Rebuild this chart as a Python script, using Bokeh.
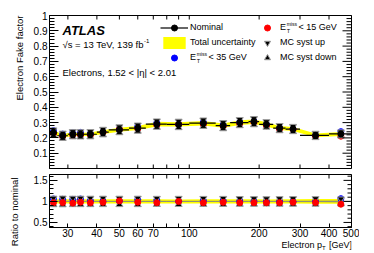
import numpy as np
from bokeh.plotting import figure
from bokeh.layouts import column, row
from bokeh.models import (Range1d, FixedTicker, CustomJSTickFormatter, LinearAxis, LogAxis,
                          Label, ColumnDataSource, Legend, LegendItem)
from bokeh.embed import file_html
from bokeh.resources import INLINE
from bokeh.core.properties import value

# ---------------- data ----------------
bin_low = [25, 27, 30, 33, 35, 40, 45, 55, 65, 80, 100, 130, 150, 180, 200, 230, 260, 300, 400]
bin_high = [27, 30, 33, 35, 40, 45, 55, 65, 80, 100, 130, 150, 180, 200, 230, 260, 300, 400, 500]
nominal = [0.234, 0.214, 0.224, 0.223, 0.224, 0.238, 0.253, 0.264, 0.290, 0.288,
           0.296, 0.280, 0.300, 0.306, 0.288, 0.264, 0.258, 0.216, 0.226]
stat_err = [0.008, 0.008, 0.008, 0.008, 0.008, 0.009, 0.009, 0.010, 0.010, 0.011,
            0.011, 0.011, 0.012, 0.012, 0.011, 0.010, 0.010, 0.009, 0.010]
total_unc = [0.012, 0.011, 0.011, 0.011, 0.011, 0.012, 0.013, 0.013, 0.015, 0.014,
             0.015, 0.014, 0.015, 0.015, 0.014, 0.013, 0.013, 0.012, 0.013]
met35 = [0.248, 0.225, 0.235, 0.236, 0.228, 0.240, 0.255, 0.275, 0.299, 0.288,
         0.302, 0.286, 0.303, 0.309, 0.288, 0.264, 0.258, 0.216, 0.241]
met15 = [0.227, 0.208, 0.215, 0.219, 0.217, 0.233, 0.256, 0.259, 0.281, 0.288,
         0.287, 0.274, 0.291, 0.297, 0.279, 0.256, 0.253, 0.210, 0.211]
syst_up = [0.252, 0.231, 0.241, 0.240, 0.241, 0.256, 0.272, 0.284, 0.311, 0.309,
           0.317, 0.300, 0.320, 0.326, 0.306, 0.281, 0.275, 0.230, 0.239]
syst_down = [0.216, 0.197, 0.207, 0.206, 0.207, 0.220, 0.234, 0.244, 0.269, 0.267,
             0.275, 0.260, 0.280, 0.286, 0.270, 0.247, 0.241, 0.202, 0.213]
mc_stat_rel = [0.015, 0.015, 0.015, 0.015, 0.015, 0.015, 0.015, 0.015, 0.015, 0.015,
               0.015, 0.015, 0.015, 0.015, 0.015, 0.015, 0.018, 0.022, 0.030]

x_ticks = [30, 40, 50, 60, 70, 80, 90, 100, 200, 300, 400, 500]
x_tick_labels = ["30", "40", "50", "60", "70", "", "", "100", "200", "300", "400", "500"]
y_ticks_top = [0.1, 0.2, 0.3, 0.4, 0.5, 0.6, 0.7, 0.8, 0.9, 1.0]
y_tick_labels_top = ["0.1", "0.2", "0.3", "0.4", "0.5", "0.6", "0.7", "0.8", "0.9", "1"]
y_minor_top = [round(0.02 * i, 2) for i in range(51)]
y_ticks_ratio = [0.5, 1.0, 1.5]
y_tick_labels_ratio = ["0.5", "1", "1.5"]
y_minor_ratio = [round(0.1 * i, 1) for i in range(3, 17)]

# ---------------- derived ----------------
lo = np.array(bin_low, float)
hi = np.array(bin_high, float)
cx = (lo + hi) / 2
nom = np.array(nominal)
st = np.array(stat_err)
tot = np.array(total_unc)
m35 = np.array(met35)
m15 = np.array(met15)
up = np.array(syst_up)
dn = np.array(syst_down)
mcs = np.array(mc_stat_rel)

top = ColumnDataSource(dict(x=cx, lo=lo, hi=hi, nom=nom, slo=nom - st, shi=nom + st,
                            blo=nom - tot, bhi=nom + tot, m35=m35, m15=m15, up=up, dn=dn))
rat = ColumnDataSource(dict(x=cx, lo=lo, hi=hi, one=nom / nom, blo=1 - tot / nom, bhi=1 + tot / nom,
                            glo=1 - mcs, ghi=1 + mcs, m35=m35 / nom, m15=m15 / nom,
                            up=up / nom, dn=dn / nom))

FONT = "Liberation Sans"
FS = "10px"
W = 333
xr = Range1d(25, 500)
NB = "\u00a0"


def fmt(tv, tl):
    return CustomJSTickFormatter(args=dict(tv=tv, tl=tl),
                                 code="const i = tv.indexOf(tick); return i >= 0 ? tl[i] : String(tick);")


def style_axis(ax, tin=8, minin=4, standoff=3):
    ax.major_tick_in = tin
    ax.major_tick_out = 0
    ax.minor_tick_in = minin
    ax.minor_tick_out = 0
    ax.axis_line_color = "black"
    ax.major_tick_line_color = "black"
    ax.minor_tick_line_color = "black"
    ax.major_label_text_font = FONT
    ax.major_label_text_color = "black"
    ax.major_label_text_font_size = FS
    ax.major_label_standoff = standoff


def mirror_ticks(p, yt, ymin, major_len, minor_len, xtick_len, ybottom=True):
    # inward tick marks on the right, top (and bottom) frame edges; outer half is clipped by the frame
    xe = p.x_range.end
    p.scatter(x=[xe] * len(yt), y=yt, marker="dash", size=2 * major_len, line_color="black", line_width=1)
    p.scatter(x=[xe] * len(ymin), y=ymin, marker="dash", size=2 * minor_len, line_color="black", line_width=1)
    p.scatter(x=x_ticks, y=[p.y_range.end] * len(x_ticks), marker="dash", angle=np.pi / 2,
              size=2 * xtick_len, line_color="black", line_width=1)
    if ybottom:
        p.scatter(x=x_ticks, y=[p.y_range.start] * len(x_ticks), marker="dash", angle=np.pi / 2,
                  size=2 * xtick_len, line_color="black", line_width=1)


def lab(p, x, y, text, size, **kw):
    p.add_layout(Label(x=x, y=y, x_units="screen", y_units="screen", text=text,
                       text_font=FONT, text_font_size=size, text_color="black",
                       text_baseline="middle", **kw))


# ---------------- top panel ----------------
p1 = figure(width=W, height=171, x_axis_type="log", x_range=xr, y_range=Range1d(0, 1),
            output_backend="svg", toolbar_location=None, x_axis_location=None, y_axis_location=None,
            min_border_left=23, min_border_right=8, min_border_top=15, min_border_bottom=3)
p1.grid.visible = False
p1.outline_line_color = "black"

yt1 = FixedTicker(ticks=y_ticks_top, minor_ticks=y_minor_top)
ax_l = LinearAxis(ticker=yt1, formatter=fmt(y_ticks_top, y_tick_labels_top))
style_axis(ax_l, 9, 5, 2)
p1.add_layout(ax_l, "left")

r_band = p1.varea(x="x", y1="blo", y2="bhi", source=top, fill_color="#ffff00")
r_nom_h = p1.segment(x0="lo", x1="hi", y0="nom", y1="nom", source=top, line_color="black", line_width=1.2)
p1.segment(x0="x", x1="x", y0="slo", y1="shi", source=top, line_color="black", line_width=1.2)
r_blue = p1.scatter(x="x", y="m35", source=top, marker="circle", size=6, fill_color="#0000ff", line_color="#0000ff")
r_red = p1.scatter(x="x", y="m15", source=top, marker="circle", size=6, fill_color="#ff0000", line_color="#ff0000")
r_up = p1.scatter(x="x", y="up", source=top, marker="inverted_triangle", size=7, fill_color="black",
                  line_color="#999999", line_width=1)
r_dn = p1.scatter(x="x", y="dn", source=top, marker="triangle", size=7, fill_color="black",
                  line_color="#999999", line_width=1)
r_nom = p1.scatter(x="x", y="nom", source=top, marker="circle", size=6, fill_color="black", line_color="black")
mirror_ticks(p1, y_ticks_top, [v for v in y_minor_top if round(v * 10, 6) % 1 != 0], 9, 5, 4)

LFS = "9px"
leg_common = dict(padding=0, spacing=0, glyph_height=15, label_height=15, border_line_alpha=0,
                  background_fill_alpha=0, label_text_font=FONT, label_text_font_size=LFS,
                  label_text_color="black", margin=0)
leg1 = Legend(items=[LegendItem(label=value("Nominal"), renderers=[r_nom_h, r_nom]),
                     LegendItem(label=value("Total uncertainty"), renderers=[r_band]),
                     LegendItem(label=value("E" + NB * 5 + "< 35 GeV"), renderers=[r_blue])],
              location=(111, 103.5), glyph_width=28, label_standoff=2, **leg_common)
leg2 = Legend(items=[LegendItem(label=value("E" + NB * 5 + "< 15 GeV"), renderers=[r_red]),
                     LegendItem(label=value("MC syst up"), renderers=[r_up]),
                     LegendItem(label=value("MC syst down"), renderers=[r_dn])],
              location=(206, 103.5), glyph_width=24, label_standoff=1, **leg_common)
p1.add_layout(leg1)
p1.add_layout(leg2)

# E_T^miss decorations (top frame: sx = px-49, sy = 168-py)
for ex, row_y in ((141, 57), (231, 27)):
    lab(p1, ex + 6.2, 168 - row_y + 3.5, "miss", "5px")
    lab(p1, ex + 6.2, 168 - row_y - 3, "T", "5.5px")

lab(p1, 13, 138, "ATLAS", "13px", text_font_style="bold italic")
lab(p1, 13, 124, "\u221as = 13 TeV, 139 fb", "9.5px")
lab(p1, 94.5, 128, "-1", "6px")
lab(p1, 13, 96, "Electrons, 1.52 < |\u03b7| < 2.01", "9.5px")

# ---------------- ratio panel ----------------
p2 = figure(width=W, height=69, x_axis_type="log", x_range=xr, y_range=Range1d(0.38, 1.64),
            output_backend="svg", toolbar_location=None, x_axis_location=None, y_axis_location=None,
            min_border_left=23, min_border_right=8, min_border_top=3, min_border_bottom=13)
p2.grid.visible = False
p2.outline_line_color = "black"

yt2 = FixedTicker(ticks=y_ticks_ratio, minor_ticks=y_minor_ratio)
bx_l = LinearAxis(ticker=yt2, formatter=fmt(y_ticks_ratio, y_tick_labels_ratio))
style_axis(bx_l, 8, 4, 2)
p2.add_layout(bx_l, "left")
bx_b = LogAxis(ticker=FixedTicker(ticks=x_ticks), formatter=fmt(x_ticks, x_tick_labels))
style_axis(bx_b, 4, 0, 1)
p2.add_layout(bx_b, "below")

p2.varea(x="x", y1="blo", y2="bhi", source=rat, fill_color="#ffff00")
p2.varea(x="x", y1="glo", y2="ghi", source=rat, fill_color="#8c8c5a", fill_alpha=0.45)
p2.segment(x0="lo", x1="hi", y0="one", y1="one", source=rat, line_color="#888888", line_width=1)
p2.scatter(x="x", y="m35", source=rat, marker="circle", size=6, fill_color="#0000ff", line_color="#0000ff")
p2.scatter(x="x", y="up", source=rat, marker="inverted_triangle", size=7, fill_color="black",
           line_color="#999999", line_width=1)
p2.scatter(x="x", y="dn", source=rat, marker="triangle", size=7, fill_color="black",
           line_color="#999999", line_width=1)
p2.segment(x0="x", x1="x", y0="dn", y1="up", source=rat, line_color="black", line_width=1.2)
p2.scatter(x="x", y="m15", source=rat, marker="circle", size=6, fill_color="#ff0000", line_color="#ff0000")
mirror_ticks(p2, y_ticks_ratio, [v for v in y_minor_ratio if v not in y_ticks_ratio], 8, 4, 4, ybottom=False)


def blank(width, height):
    p = figure(width=width, height=height, x_range=(0, 1), y_range=(0, 1), output_backend="svg",
               toolbar_location=None, x_axis_location=None, y_axis_location=None,
               min_border_left=0, min_border_right=0, min_border_top=0, min_border_bottom=0)
    p.outline_line_color = None
    p.grid.visible = False
    return p


# ---------------- x-axis title strip (frame aligned with panels: sx = px-49, sy = 253-py) ----------------
p3 = blank(W, 13)
lab(p3, 232, 8.5, "Electron p", "9px")
lab(p3, 272.5, 6, "T", "6px")
lab(p3, 277, 8.5, NB + "[GeV]", "9px")

# ---------------- y-axis title strip (sx = px, sy = 253-py) ----------------
pL = blank(26, 253)
lab(pL, 19, 238, "Electron Fake factor", "9.5px", angle=np.pi / 2, text_align="right")
lab(pL, 14, 76, "Ratio to nominal", "9.5px", angle=np.pi / 2, text_align="right")

layout = row(pL, column(p1, p2, p3, spacing=0), spacing=0)
open("out.html", "w").write(file_html(layout, INLINE))
